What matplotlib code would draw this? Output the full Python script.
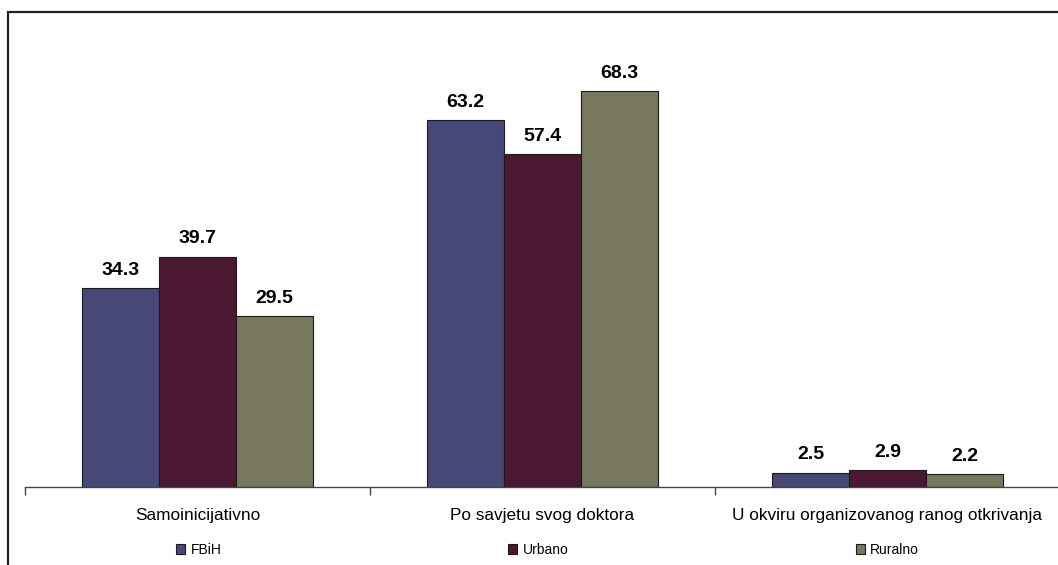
import matplotlib.pyplot as plt
import matplotlib.patches as mpatches
import numpy as np

# === data ===
categories = ['Samoinicijativno', 'Po savjetu svog doktora', 'U okviru organizovanog ranog otkrivanja']
series_names = ['FBiH', 'Urbano', 'Ruralno']
fbih = [34.3, 63.2, 2.5]
urbano = [39.7, 57.4, 2.9]
ruralno = [29.5, 68.3, 2.2]
colors = ['#484878', '#4a1830', '#787860']

plt.rcParams['font.family'] = ['Liberation Sans', 'DejaVu Sans']

W, H = 1058, 565
fig = plt.figure(figsize=(W / 100, H / 100), dpi=100)

# outer frame (top and left visible, runs off right/bottom)
frame = mpatches.Rectangle((8 / W, -0.05), 1.1, 1 - 12 / H + 0.05, transform=fig.transFigure,
                           fill=False, edgecolor='#222222', linewidth=1.6, clip_on=False)
fig.patches.append(frame)

# axes: baseline at y=487, starts at x=25, spans 3 categories of ~345 px
ax = fig.add_axes([25 / W, 1 - 487 / H, 1035 / W, (487 - 30) / H])
x = np.arange(len(categories))
bw = 77 / 345

ymax = (487 - 30) / 5.8
ax.set_ylim(0, ymax)
ax.set_xlim(-0.5, len(categories) - 0.5)

for i, (vals, name) in enumerate(zip([fbih, urbano, ruralno], series_names)):
    pos = x + (i - 1) * bw
    ax.bar(pos, vals, width=bw, color=colors[i], edgecolor='#1a1a1a', linewidth=0.8, label=name)
    for px, v in zip(pos, vals):
        ax.text(px, v + 1.6, f'{v:.1f}', ha='center', va='bottom', fontsize=14, fontweight='bold')

for s in ['top', 'right', 'left']:
    ax.spines[s].set_visible(False)
ax.spines['bottom'].set_color('#444444')
ax.spines['bottom'].set_linewidth(1.0)
ax.set_yticks([])

# category boundaries as ticks
ax.set_xticks(np.arange(len(categories) + 1) - 0.5, minor=False)
ax.set_xticklabels([])
ax.tick_params(axis='x', direction='out', length=6, width=1.0, color='#444444')
for xi, c in zip(x, categories):
    ax.text(xi, -0.045, c, transform=ax.get_xaxis_transform(), ha='center', va='top', fontsize=12.4)

handles = [mpatches.Patch(facecolor=colors[i], edgecolor='#1a1a1a', linewidth=0.8) for i in range(3)]
fig.legend(handles, series_names, ncol=3, mode='expand', frameon=False,
           loc='center', bbox_to_anchor=(176 / W, 1 - 558 / H, (919 - 176) / W, 16 / H),
           borderaxespad=0, borderpad=0, fontsize=10,
           handlelength=0.65, handleheight=0.65, handletextpad=0.4)

fig.savefig('out.png', dpi=100)
